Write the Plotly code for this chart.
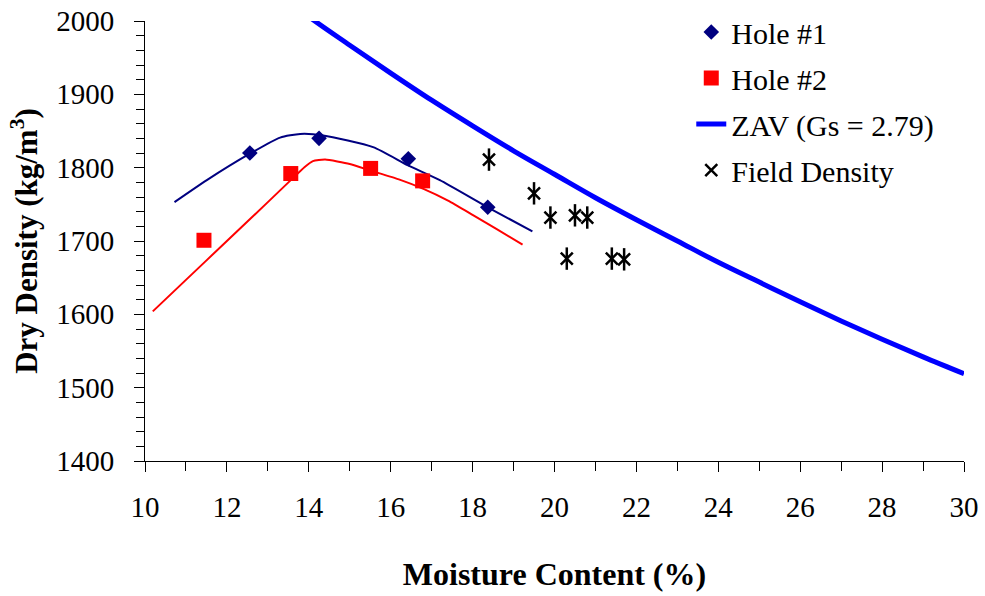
import plotly.graph_objects as go

# ---- data ----
hole1_w = [12.56, 14.25, 16.43, 18.37]
hole1_d = [1820, 1840, 1812, 1746]

hole2_w = [11.44, 13.56, 15.51, 16.78]
hole2_d = [1701, 1792, 1799, 1782]

fit1_w = [10.72, 11.51, 12.56, 13.30, 13.79, 14.35, 15.57, 16.43, 17.20, 18.37, 19.46]
fit1_d = [1753, 1783, 1819, 1841, 1846, 1844, 1828, 1803, 1783, 1746, 1713]

fit2_w = [10.19, 11.0, 12.0, 13.0, 13.56, 13.9, 14.1, 14.4, 15.0, 15.51, 16.2, 16.8, 17.4, 18.02, 18.6, 19.22]
fit2_d = [1604, 1647, 1700, 1753, 1783, 1801, 1809, 1811, 1805, 1796, 1784, 1771, 1755, 1735, 1716, 1695]

zav_w = [13.7, 14, 15, 16, 17, 18, 19, 20, 21, 22, 23, 24, 25, 26, 27, 28, 29, 30]
zav_d = [2020, 2006, 1967, 1929, 1892, 1857, 1823, 1791, 1759, 1729, 1700, 1671, 1644, 1617, 1591, 1566, 1542, 1519]

field_w = [18.4, 19.5, 19.9, 20.5, 20.8, 20.3, 21.4, 21.7]
field_d = [1811, 1765, 1732, 1735, 1732, 1676, 1676, 1675]

x_ticks = [10, 12, 14, 16, 18, 20, 22, 24, 26, 28, 30]
y_ticks = [1400, 1500, 1600, 1700, 1800, 1900, 2000]

FONT = "Liberation Serif, Times New Roman, serif"

fig = go.Figure()

fig.add_trace(go.Scatter(x=fit1_w, y=fit1_d, mode="lines", line=dict(color="#000080", width=2, shape="spline", smoothing=0.6),
                         showlegend=False, hoverinfo="skip"))
fig.add_trace(go.Scatter(x=fit2_w, y=fit2_d, mode="lines", line=dict(color="#FF0000", width=2, shape="spline", smoothing=0.5),
                         showlegend=False, hoverinfo="skip"))

fig.add_trace(go.Scatter(x=hole1_w, y=hole1_d, mode="markers", name="Hole #1", legendgroup="g1",
                         marker=dict(symbol="diamond", size=12, color="#000080")))
fig.add_trace(go.Scatter(x=hole2_w, y=hole2_d, mode="markers", name="Hole #2", legendgroup="g2",
                         marker=dict(symbol="square", size=15, color="#FF0000")))
fig.add_trace(go.Scatter(x=zav_w, y=zav_d, mode="lines", name="ZAV (Gs = 2.79)", legendgroup="g3",
                         line=dict(color="#0000FF", width=5, shape="spline")))
fig.add_trace(go.Scatter(x=field_w, y=field_d, mode="markers", name="Field Density", legendgroup="g4",
                         marker=dict(symbol="x-thin-open", size=12, color="black", line=dict(color="black", width=2.5))))
fig.add_trace(go.Scatter(x=field_w, y=field_d, mode="markers", name="Field Density", legendgroup="g4",
                         showlegend=False,
                         marker=dict(symbol="line-ns-open", size=16, color="black", line=dict(color="black", width=2.5))))

axis_common = dict(showline=True, linecolor="black", linewidth=1, showgrid=False, zeroline=False,
                   ticks="outside", ticklen=10, tickcolor="black", tickwidth=1, automargin=False)

fig.update_layout(
    width=985, height=596,
    margin=dict(l=145, r=21, t=21, b=135, autoexpand=False),
    plot_bgcolor="white", paper_bgcolor="white",
    font=dict(family=FONT, color="black"),
    xaxis=dict(range=[10, 30], tickvals=x_ticks, ticktext=[str(v) for v in x_ticks],
               minor=dict(dtick=1, ticks="outside", ticklen=9, tickcolor="black"),
               ticklabelstandoff=10, tickfont=dict(family=FONT, size=29, color="black"),
               title=dict(text="<b>Moisture Content (%)</b>", font=dict(family=FONT, size=32), standoff=40),
               **axis_common),
    yaxis=dict(range=[1400, 2000], tickvals=y_ticks, ticktext=[str(v) for v in y_ticks],
               minor=dict(dtick=20, ticks="outside", ticklen=8, tickcolor="black"),
               ticklabelstandoff=14, tickfont=dict(family=FONT, size=29, color="black"),
               title=dict(text="<b>Dry Density (kg/m<sup>3</sup>)</b>", font=dict(family=FONT, size=31), standoff=9),
               **axis_common),
    xaxis2=dict(overlaying="x", matches="x", range=[10, 30], tickvals=x_ticks, showticklabels=False,
                ticks="inside", ticklen=10, tickcolor="black", showgrid=False, zeroline=False, showline=False,
                anchor="y", side="bottom", automargin=False),
    yaxis2=dict(overlaying="y", matches="y", range=[1400, 2000], tickvals=y_ticks, showticklabels=False,
                ticks="inside", ticklen=10, tickcolor="black", showgrid=False, zeroline=False, showline=False,
                anchor="x", side="left", automargin=False),
    legend=dict(x=0.667, y=1.034, xanchor="left", yanchor="top", bgcolor="rgba(0,0,0,0)",
                font=dict(family=FONT, size=30, color="black"), tracegroupgap=4, traceorder="grouped"),
    showlegend=True,
)

fig.write_html("out.html")
